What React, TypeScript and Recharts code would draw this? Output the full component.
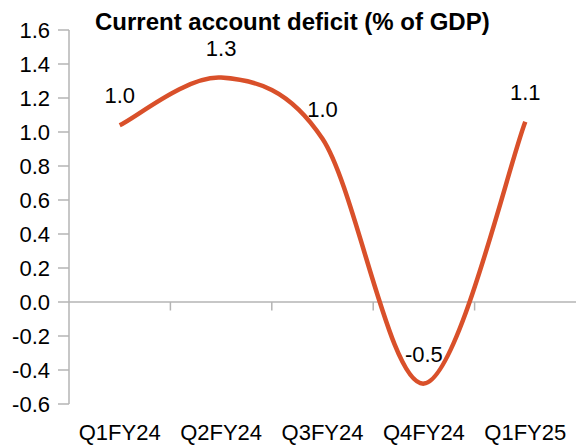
import React from 'react';
import { LineChart, Line, XAxis, YAxis, ReferenceLine, LabelList } from 'recharts';

const quarters = ['Q1FY24', 'Q2FY24', 'Q3FY24', 'Q4FY24', 'Q1FY25'];
const deficit = [1.04, 1.32, 0.96, -0.48, 1.06];
const yTicks = [-0.6, -0.4, -0.2, 0.0, 0.2, 0.4, 0.6, 0.8, 1.0, 1.2, 1.4, 1.6];
// category boundaries where the small ticks sit under the zero line
const boundaries = [1, 2, 3, 4];

const data = quarters.map((q, i) => ({ quarter: q, value: deficit[i], pos: i + 0.5 }));

const FONT = '"Liberation Sans", Arial, sans-serif';
const AXIS = '#B4B4B4';
const HALF_BAND = 50.7;

// smooth line similar to Excel's "smoothed line" (Catmull-Rom style)
const smoothCurve = (context: any) => {
  let pts: [number, number][] = [];
  return {
    areaStart() {},
    areaEnd() {},
    lineStart() {
      pts = [];
    },
    point(x: number, y: number) {
      pts.push([x, y]);
    },
    lineEnd() {
      if (!pts.length) return;
      context.moveTo(pts[0][0], pts[0][1]);
      for (let i = 0; i < pts.length - 1; i++) {
        const p0 = pts[i - 1] || pts[i];
        const p1 = pts[i];
        const p2 = pts[i + 1];
        const p3 = pts[i + 2] || p2;
        context.bezierCurveTo(
          p1[0] + (p2[0] - p0[0]) / 6,
          p1[1] + (p2[1] - p0[1]) / 6,
          p2[0] - (p3[0] - p1[0]) / 6,
          p2[1] - (p3[1] - p1[1]) / 6,
          p2[0],
          p2[1]
        );
      }
    },
  };
};

const App: React.FC = () => {
  return (
    <div style={{ position: 'absolute', left: 0, top: 0, width: 576, height: 446, background: '#fff', fontFamily: FONT }}>
      <LineChart
        width={576}
        height={446}
        data={data}
        margin={{ top: 30, right: 0, bottom: 0, left: 0 }}
      >
        <XAxis
          dataKey="quarter"
          height={42}
          padding={{ left: HALF_BAND, right: HALF_BAND }}
          axisLine={false}
          tickLine={false}
          tickSize={0}
          tickMargin={20}
          interval={0}
          tick={{ fontSize: 22, fill: '#000', fontFamily: FONT }}
        />
        <XAxis xAxisId="grid" type="number" dataKey="pos" domain={[0, 5]} hide />
        <YAxis
          width={69}
          domain={[-0.6, 1.6]}
          ticks={yTicks}
          interval={0}
          tickFormatter={(v: number) => v.toFixed(1)}
          axisLine={{ stroke: AXIS, strokeWidth: 1.5 }}
          tickLine={{ stroke: AXIS, strokeWidth: 1.5 }}
          tickSize={11}
          tickMargin={8}
          tick={{ fontSize: 22, fill: '#000', fontFamily: FONT }}
        />
        <ReferenceLine y={0} stroke={AXIS} strokeWidth={1.5} />
        {boundaries.map((b) => (
          <ReferenceLine
            key={b}
            xAxisId="grid"
            segment={[{ x: b, y: 0 }, { x: b, y: -0.05 }]}
            stroke={AXIS}
            strokeWidth={1.5}
          />
        ))}
        <Line
          type={smoothCurve as any}
          dataKey="value"
          stroke="#D9502A"
          strokeWidth={4.5}
          dot={false}
          isAnimationActive={false}
        >
          <LabelList
            dataKey="value"
            position="top"
            offset={22}
            formatter={(v: any) => Number(v).toFixed(1)}
            style={{ fontSize: 22, fill: '#000', fontFamily: FONT }}
          />
        </Line>
      </LineChart>
      <div
        style={{
          position: 'absolute',
          left: 95,
          top: 10,
          fontSize: 24,
          lineHeight: '24px',
          fontWeight: 'bold',
          whiteSpace: 'nowrap',
          color: '#000',
        }}
      >
        Current account deficit (% of GDP)
      </div>
    </div>
  );
};

export default App;
